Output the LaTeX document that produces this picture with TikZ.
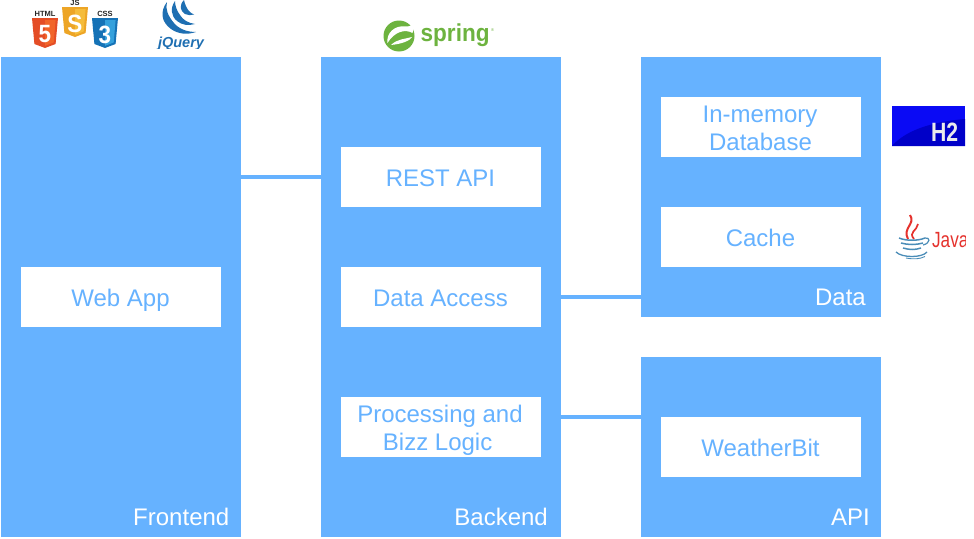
\documentclass[tikz,border=0pt]{standalone}
\usepackage{fontspec}
\setmainfont{Liberation Sans}
\usetikzlibrary{calc}
\definecolor{skyb}{HTML}{66B2FF}
\definecolor{htmlor}{HTML}{E44D26}
\definecolor{htmllt}{HTML}{F16529}
\definecolor{jsor}{HTML}{EDA526}
\definecolor{jslt}{HTML}{F5BC3A}
\definecolor{cssbl}{HTML}{1572B6}
\definecolor{csslt}{HTML}{33A0DC}
\definecolor{jqb}{HTML}{1F6FB2}
\definecolor{springg}{HTML}{6DB33F}
\definecolor{javar}{HTML}{E5322D}
\definecolor{javab}{HTML}{4A8DB8}
\definecolor{hb}{HTML}{0A0AF5}
\definecolor{hd}{HTML}{0000C8}
\tikzset{
  x=1pt,y=-1pt,
  panel/.style={fill=skyb,draw=none,minimum width=240pt,outer sep=0pt,inner sep=0pt},
  whitebox/.style={fill=white,draw=none,minimum width=200pt,minimum height=60pt,outer sep=0pt,inner sep=0pt,
     text=skyb,align=center,font=\fontsize{24}{28}\selectfont,execute at end node=\hspace*{1pt}},
  oneline/.style={text height=22pt,text depth=2.8pt},
  caption/.style={text=white,anchor=base east,inner sep=0pt,font=\fontsize{24}{28}\selectfont},
  link/.style={draw=skyb,line width=4pt},
  shield/.pic={
    \fill[pic actions] (-13,-15) -- (13,-15) -- (10.6,11) -- (0,15) -- (-10.6,11) -- cycle;
  },
  halfshield/.pic={
    \fill[pic actions] (0,-13) -- (10.6,-13) -- (8.7,9.5) -- (0,12.8) -- cycle;
  },
  tiny/.style={font=\fontsize{7.5}{7.5}\selectfont\bfseries,inner sep=0pt,text=black!85},
  digit/.style={font=\fontsize{25}{25}\selectfont\bfseries,inner sep=0pt,text=white,xscale=.9},
}
\begin{document}
\begin{tikzpicture}
\useasboundingbox (0,0) rectangle (974,538);
\fill[white] (0,0) rectangle (974,538);

% panels
\node[panel,minimum height=480pt] (front) at (121,297) {};
\node[panel,minimum height=480pt] (back) at (441,297) {};
\node[panel,minimum height=260pt] (data) at (761,187) {};
\node[panel,minimum height=180pt] (api) at (761,447) {};

% inner boxes
\node[whitebox,oneline] (web) at (121,297) {Web App};
\node[whitebox,oneline] (rest) at (441,177) {REST API};
\node[whitebox,oneline] (access) at (441,297) {Data Access};
\node[whitebox] (proc) at (441,427) {\rule{0pt}{23.5pt}Processing and\hspace*{1pt}\\Bizz Logic\hspace*{5.7pt}};
\node[whitebox] (mem) at (761,127) {\rule{0pt}{19.6pt}In-memory\hspace*{1pt}\\Database};
\node[whitebox,oneline] (cache) at (761,237) {Cache};
\node[whitebox,oneline] (wb) at (761,447) {WeatherBit};

% captions
\node[caption] (lf) at (229.5,525) {Frontend};
\node[caption] (lb) at (548,525) {Backend};
\node[caption] (ld) at (866,305) {Data};
\node[caption] (la) at (870,525) {API};

% connectors
\draw[link] (front.east |- rest.center) -- (back.west |- rest.center);
\draw[link] (back.east |- access.center) -- (data.west |- access.center);
\draw[link] (back.east |- 0,417) -- (api.west |- 0,417);

% HTML5 / JS / CSS3 logos
\path pic[fill=htmlor] at (45,33) {shield};
\path pic[fill=htmllt] at (45,33) {halfshield};
\path pic[fill=jsor] at (75,22) {shield};
\path pic[fill=jslt] at (75,22) {halfshield};
\path pic[fill=cssbl] at (105,33) {shield};
\path pic[fill=csslt] at (105,33) {halfshield};
\node[digit] (h5) at (45,34.5) {5};
\node[digit] (j5) at (75,23.5) {S};
\node[digit] (c3) at (105,34.5) {3};
\node[tiny] (th) at (45,14) {HTML};
\node[tiny] (tj) at (75,3) {JS};
\node[tiny] (tc) at (105,14) {CSS};

% jQuery logo
\begin{scope}
\clip (150,0) rectangle (210,48);
\fill[jqb] (167,2) .. controls (160,11) and (161,22) .. (171,29) .. controls (178,34) and (187,35) .. (196,32)
   .. controls (187,32) and (179,29) .. (174,23) .. controls (168,16) and (165,9) .. (167,2) -- cycle;
\fill[jqb] (175,1) .. controls (170,8) and (171,16) .. (177,21) .. controls (182,25) and (188,26) .. (195,24)
   .. controls (188,23) and (183,20) .. (180,15) .. controls (177,11) and (175,6) .. (175,1) -- cycle;
\fill[jqb] (184,0) .. controls (179,5) and (180,11) .. (185,14) .. controls (188,15.5) and (191,15.5) .. (194,14.5)
   .. controls (190,13) and (186,9) .. (184,0) -- cycle;
\node[inner sep=0pt,anchor=base,text=jqb,font=\fontsize{14.5}{14.5}\selectfont\itshape\bfseries] (jq) at (181,47) {jQuery};
\end{scope}

% Spring logo
\fill[springg] (399,36) circle (15.5);
\fill[white] (387.5,43) .. controls (386,33) and (395,25) .. (405,26.5) .. controls (408,27) and (411,26) .. (413,24)
   .. controls (414,27) and (413.5,30) .. (412.5,33)
   .. controls (405,28.5) and (394,32) .. (387.5,43) -- cycle;
\fill[white] (391,45) .. controls (397,39) and (405,39) .. (412,37) .. controls (410,41) and (401,44) .. (391,45) -- cycle;
\node[inner sep=0pt,anchor=base west,text=springg,xscale=.92,font=\fontsize{24.5}{24.5}\selectfont\bfseries] (sp) at (420.5,41.5) {spring};
\node[inner sep=0pt,text=springg,font=\fontsize{4}{4}\selectfont] (reg) at (492.5,30) {®};

% H2 logo
\begin{scope}
\clip (892,106) rectangle (965,146);
\fill[hb] (892,106) rectangle (965,146);
\fill[hd] (892,146) .. controls (905,131) and (930,122) .. (965,119) -- (965,146) -- cycle;
\end{scope}
\node[inner sep=0pt,anchor=base west,xscale=.8,text=white!92!black,font=\fontsize{26.5}{26.5}\selectfont\bfseries] (h2) at (931,141) {H2};

% Java logo
\begin{scope}
\clip (890,210) rectangle (965,262);
\draw[javar,line width=2pt] (910,215) .. controls (916,224) and (902,228) .. (908,239);
\draw[javar,line width=1.7pt] (918,224) .. controls (917,231) and (908,232) .. (914,239);
\draw[javab,line width=1.5pt] (899,238) .. controls (906,241) and (918,241) .. (925,238);
\draw[javab,line width=1.5pt] (901,243) .. controls (908,245) and (916,245) .. (923,243);
\draw[javab,line width=1.5pt] (903,248) .. controls (910,250) and (915,250) .. (921,248);
\draw[javab,line width=1.2pt] (925,238) .. controls (930,237) and (931,243) .. (923,245);
\draw[javab,line width=1.3pt] (896,252) .. controls (902,258) and (922,258) .. (927,252);
\draw[javab,line width=.9pt] (906,258) .. controls (914,259.5) and (920,259) .. (925,256.5);
\node[inner sep=0pt,anchor=base west,xscale=.78,text=javar,font=\fontsize{22}{22}\selectfont] (jv) at (932,247) {Java};
\end{scope}
\end{tikzpicture}
\end{document}
